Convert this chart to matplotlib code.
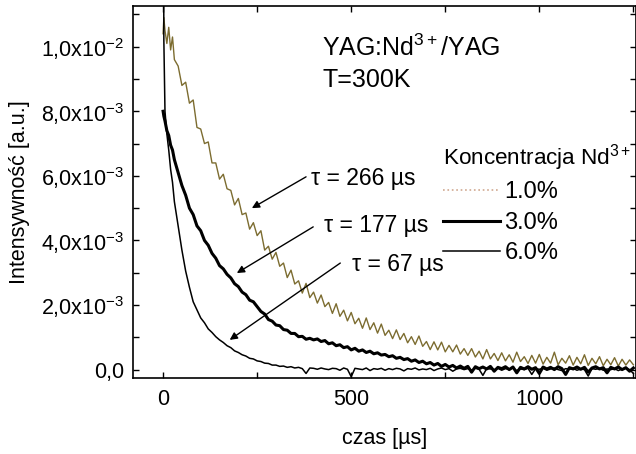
import matplotlib
matplotlib.use("Agg")
import matplotlib.pyplot as plt
from matplotlib.lines import Line2D
from matplotlib.ticker import FixedLocator, MultipleLocator

plt.rcParams['font.family'] = ['Liberation Sans', 'DejaVu Sans']
plt.rcParams['mathtext.fontset'] = 'custom'
plt.rcParams['mathtext.rm'] = 'Liberation Sans'
plt.rcParams['mathtext.it'] = 'Liberation Sans:italic'
plt.rcParams['mathtext.default'] = 'regular'

# time axis [µs]
time_us = [0, 2, 5, 10, 15, 20, 25, 30] + list(range(40, 1260, 10))

# intensities in units of 1e-3 a.u.
conc_1 = [10.4, 10.9, 10.5, 10.1, 10.6, 9.9, 10.3, 9.6,
          9.4, 8.8, 8.9, 8.25, 8.35, 7.5, 7.45, 7.0, 7.05, 6.4,
          6.4, 5.9, 6.05, 5.6, 5.55, 5.1, 5.3, 4.8, 4.85, 4.35,
          4.55, 4.15, 4.3, 3.7, 3.82, 3.42, 3.63, 3.2, 3.3, 2.85,
          3.08, 2.65, 2.75, 2.37, 2.67, 2.23, 2.4, 2.06, 2.31, 1.95,
          2.08, 1.74, 2.04, 1.65, 1.84, 1.51, 1.77, 1.42, 1.59, 1.28,
          1.6, 1.24, 1.45, 1.13, 1.41, 1.06, 1.22, 0.96, 1.23, 0.93,
          1.12, 0.83, 1.02, 0.78, 1.04, 0.72, 0.87, 0.62, 0.86, 0.61,
          0.85, 0.55, 0.75, 0.55, 0.76, 0.48, 0.65, 0.44, 0.65, 0.39,
          0.57, 0.33, 0.62, 0.33, 0.5, 0.28, 0.52, 0.27, 0.46, 0.23,
          0.54, 0.25, 0.4, 0.19, 0.44, 0.2, 0.47, 0.17, 0.38, 0.2,
          0.54, 0.15, 0.35, 0.2, 0.43, 0.14, 0.38, 0.18, 0.46, 0.13,
          0.35, 0.18, 0.4, 0.12, 0.32, 0.15, 0.37, 0.11, 0.32, 0.14,
          0.3, 0.15]

conc_3 = [8.0, 7.85, 7.7, 7.4, 7.25, 6.95, 6.8, 6.5,
          6.1, 5.7, 5.4, 5.0, 4.8, 4.45, 4.3, 4.0, 3.85, 3.6, 3.45, 3.22, 3.12, 2.95, 2.84, 2.66,
          2.57, 2.4, 2.32, 2.15, 2.1, 1.95, 1.8, 1.72, 1.55, 1.5, 1.38, 1.36, 1.24, 1.22, 1.12,
          1.12, 1.02, 1.03, 0.94, 0.97,
          0.92, 0.95, 0.87, 0.9, 0.8, 0.83, 0.74, 0.77, 0.68, 0.71,
          0.61, 0.66, 0.57, 0.61, 0.53, 0.57, 0.49, 0.52, 0.45, 0.47,
          0.4, 0.43, 0.35, 0.38, 0.31, 0.34, 0.26, 0.3, 0.22, 0.26,
          0.18, 0.22, 0.14, 0.19, 0.1, 0.16, 0.08, 0.13, 0.05, 0.11,
          0.04, 0.1, -0.08, 0.09, 0.03, 0.08, 0.02, 0.1, -0.05, 0.07,
          0.03, 0.09, 0.0, 0.08, -0.1, 0.07, 0.02, 0.09, 0.01, 0.06,
          -0.12, 0.08, 0.02, 0.07, 0.0, 0.09, 0.03, -0.15, 0.06, 0.02,
          0.08, 0.01, 0.07, -0.08, 0.05, 0.09, 0.02, 0.06, -0.1, 0.07,
          0.02, 0.08, 0.0, 0.06, -0.05, 0.05]

conc_6 = [20.0, 10.2, 8.0, 7.3, 6.8, 6.2, 5.8, 5.2,
          4.45, 3.7, 3.05, 2.55, 2.1, 1.85, 1.6, 1.45, 1.26, 1.15, 1.02, 0.92, 0.84, 0.74, 0.68,
          0.58, 0.53, 0.46, 0.42, 0.35, 0.33, 0.27, 0.25, 0.2, 0.19, 0.14, 0.14, 0.1, 0.11, 0.07,
          0.09, 0.05, 0.07, 0.03, -0.12, 0.05,
          0.04, 0.01, 0.05, 0.02, 0.0, 0.04, 0.03, -0.02, 0.05, 0.01,
          -0.22, 0.04, 0.02, 0.0, 0.05, -0.03, 0.03, 0.01, 0.04, -0.02,
          0.03, 0.0, 0.04, 0.02, -0.04, 0.03, 0.01, 0.05, -0.01, 0.02,
          0.0, 0.04, -0.03, 0.02, 0.05, 0.0, 0.03, -0.05, 0.02, 0.04,
          0.0, 0.03, -0.02, 0.04, 0.01, -0.18, 0.03, 0.02, 0.0, 0.04,
          -0.02, 0.03, 0.01, 0.05, -0.03, 0.02, 0.0, 0.04, -0.15, 0.03,
          0.01, 0.04, -0.02, 0.02, 0.05, 0.0, -0.03, 0.03, 0.01, 0.04,
          -0.02, 0.02, 0.0, -0.2, 0.03, 0.01, 0.04, -0.02, 0.02, 0.0,
          0.03, -0.03, 0.02, 0.04, 0.0, -0.12]

series_labels = ['1.0%', '3.0%', '6.0%']
ytick_values = [0.0, 2e-3, 4e-3, 6e-3, 8e-3, 1e-2]
ytick_labels = ['0,0', '2,0x10$^{-3}$', '4,0x10$^{-3}$', '6,0x10$^{-3}$',
                '8,0x10$^{-3}$', '1,0x10$^{-2}$']
xtick_values = [0, 500, 1000]

scale = 1e-3
fig = plt.figure(figsize=(6.36, 4.54), dpi=100)
ax = fig.add_axes([133 / 636, 76 / 454, 503 / 636, 372 / 454])

ax.plot(time_us, [v * scale for v in conc_1], color='#7c6c30', lw=1.0, zorder=2)
l3, = ax.plot(time_us, [v * scale for v in conc_3], color='black', lw=2.2, zorder=3)
l6, = ax.plot(time_us, [v * scale for v in conc_6], color='black', lw=1.1, zorder=4)

ax.set_xlim(-80, 1257)
ax.set_ylim(-0.26e-3, 11.26e-3)

ax.yaxis.set_major_locator(FixedLocator(ytick_values))
ax.set_yticklabels(ytick_labels)
ax.yaxis.set_minor_locator(MultipleLocator(1e-3))
ax.xaxis.set_major_locator(FixedLocator(xtick_values))
ax.xaxis.set_minor_locator(MultipleLocator(250))

ax.tick_params(which='both', direction='in', top=True, right=True, length=4, width=1,
               labelsize=15.5)
ax.tick_params(axis='x', pad=8)
ax.tick_params(axis='y', pad=6)
for s in ax.spines.values():
    s.set_linewidth(1.2)

ax.set_xlabel('czas [µs]', fontsize=15.5, labelpad=13)
ax.set_ylabel('Intensywność [a.u.]', fontsize=15.5, labelpad=8)

ax.text(423, 9.96e-3, 'YAG:Nd$^{3+}$/YAG', fontsize=18, va='center', ha='left')
ax.text(423, 8.98e-3, 'T=300K', fontsize=18, va='center', ha='left')

ax.text(393, 5.93e-3, 'τ = 266 µs', fontsize=16.5, va='center', ha='left')
ax.text(429, 4.47e-3, 'τ = 177 µs', fontsize=16.5, va='center', ha='left')
ax.text(501, 3.27e-3, 'τ = 67 µs', fontsize=16.5, va='center', ha='left')

arrow = dict(arrowstyle='-|>', color='black', lw=1.0, mutation_scale=11, shrinkA=0, shrinkB=0)
ax.annotate('', xy=(236, 5.0e-3), xytext=(380, 5.97e-3), arrowprops=arrow)
ax.annotate('', xy=(196, 2.99e-3), xytext=(399, 4.42e-3), arrowprops=arrow)
ax.annotate('', xy=(177, 0.92e-3), xytext=(471, 3.30e-3), arrowprops=arrow)

h1 = Line2D([], [], color='#d0a890', lw=1.2, ls=':')
leg = ax.legend([h1, l3, l6], series_labels, title='Koncentracja Nd$^{3+}$',
                loc='upper left', bbox_to_anchor=(443 / 636, 1 - 142 / 454),
                bbox_transform=fig.transFigure, frameon=False, fontsize=17,
                title_fontsize=16.2, handlelength=2.4, handletextpad=0.2,
                labelspacing=0.36, borderpad=0, borderaxespad=0, alignment='left')
leg.set_in_layout(False)

fig.savefig('out.png', dpi=100)
